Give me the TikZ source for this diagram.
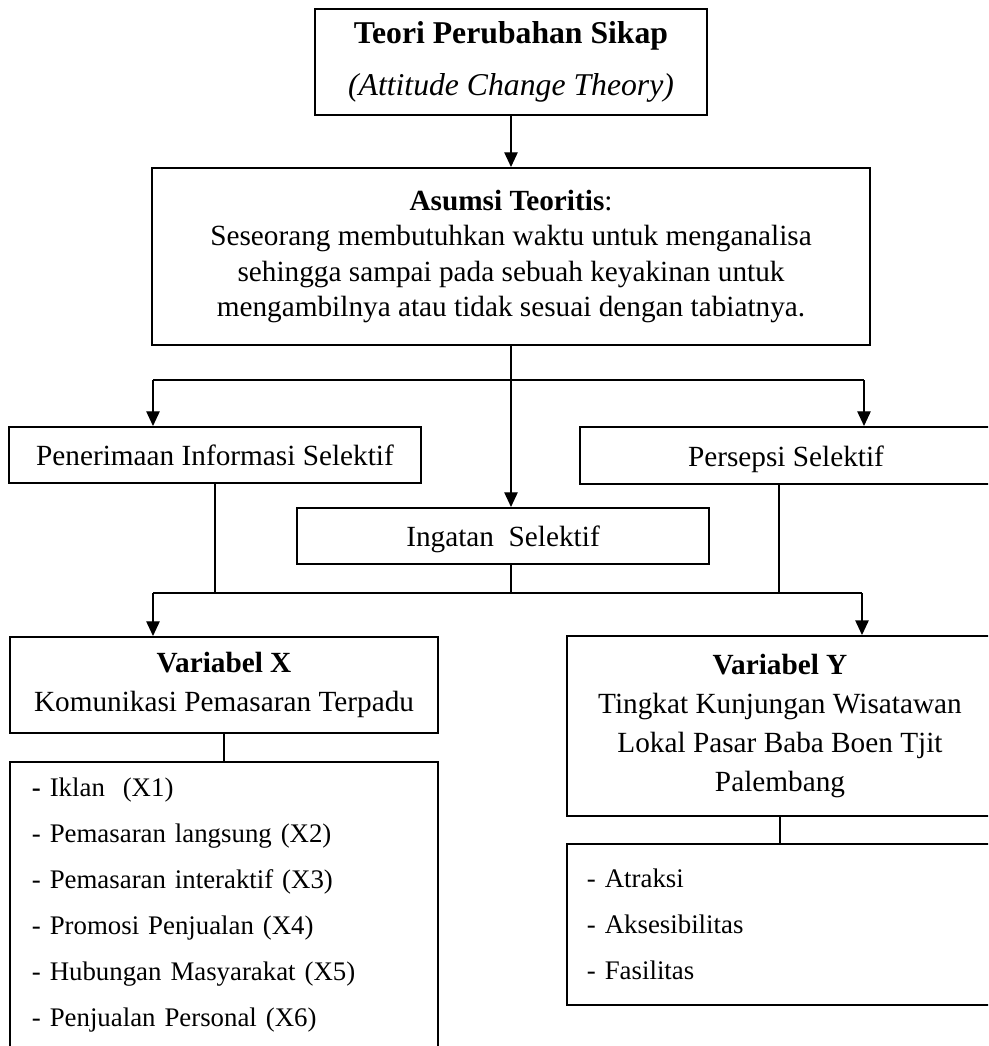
\documentclass[tikz,border=0pt]{standalone}
\usepackage{fontspec}
\setmainfont{Liberation Serif}
\usetikzlibrary{arrows.meta,positioning}
\tikzset{
    box/.style={draw, rectangle, line width=0.8pt, align=center, inner sep=0pt, font=\fontsize{12}{16}\selectfont},
    onebox/.style={box, minimum width=168.9pt, minimum height=23pt, text height=10.5pt, text depth=1.5pt},
    listbox/.style={draw, rectangle, line width=0.8pt, align=left, inner ysep=0pt, font=\fontsize{11}{18.9}\selectfont},
    edge/.style={draw, line width=0.5pt, -{Triangle[length=6pt, width=5.5pt]}},
    link/.style={draw, line width=0.5pt}
}

\begin{document}
\begin{tikzpicture}[x=0.41pt, y=-0.41pt]
    \useasboundingbox (0,0) rectangle (988,1046);
    \clip (0,0) rectangle (988,1046);

    % Nodes
    \node[box, minimum width=160.7pt, minimum height=43.5pt, font=\fontsize{13}{21.3}\selectfont] (teori) at (511,62)
        {\textbf{Teori Perubahan Sikap}\\\textit{(Attitude Change Theory)}};
    \node[box, minimum width=294pt, minimum height=72.6pt, font=\fontsize{12}{14.6}\selectfont] (asumsi) at (511,256.5)
        {\textbf{Asumsi Teoritis}:\\Seseorang membutuhkan waktu untuk menganalisa\\sehingga sampai pada sebuah keyakinan untuk\\mengambilnya atau tidak sesuai dengan tabiatnya.};
    \node[onebox] (pen) at (215,455) {Penerimaan Informasi Selektif};
    \node[onebox, minimum height=23.4pt] (pers) at (786,455.5) {Persepsi Selektif};
    \node[onebox] (ing) at (503,536) {Ingatan\ \ Selektif};
    \node[box, minimum width=175.5pt, minimum height=39.4pt] (varX) at (224,685)
        {\textbf{Variabel X}\\Komunikasi Pemasaran Terpadu};
    \node[box, minimum width=174.7pt, minimum height=73.8pt] (varY) at (780,726)
        {\textbf{Variabel Y}\\Tingkat Kunjungan Wisatawan\\Lokal Pasar Baba Boen Tjit\\Palembang};
    \node[listbox, inner xsep=9pt, text width=157.5pt, minimum height=117.3pt] (listX) at (224,905)
        {\textbf{-} Iklan\ \ (X1)\\- Pemasaran langsung (X2)\\- Pemasaran interaktif (X3)\\- Promosi Penjualan (X4)\\- Hubungan Masyarakat (X5)\\- Penjualan Personal (X6)};
    \node[listbox, inner xsep=8.2pt, text width=158.3pt, minimum height=66pt] (listY) at (780,924.5)
        {- Atraksi\\- Aksesibilitas\\- Fasilitas};

    % edges
    \draw[edge] (teori) -- (asumsi);
    \coordinate (bl) at (153,380);
    \coordinate (br) at (864,380);
    \draw[link] (bl) -- (br);
    \draw[edge] (bl) -- (bl |- pen.north);
    \draw[edge] (br) -- (br |- pers.north);
    \draw[edge] (asumsi.south) -- (asumsi.south |- ing.north);

    \coordinate (cl) at (153,593);
    \coordinate (cr) at (862,593);
    \coordinate (pline) at (779,593);
    \draw[link] (cl) -- (cr);
    \draw[link] (pen.south) -- (pen.south |- cl);
    \draw[link] (asumsi.south |- ing.south) -- (asumsi.south |- cl);
    \draw[link] (pline) -- (pline |- pers.south);
    \draw[edge] (cl) -- (cl |- varX.north);
    \draw[edge] (cr) -- (cr |- varY.north);

    \draw[link] (varX) -- (listX);
    \draw[link] (varY) -- (listY);
\end{tikzpicture}
\end{document}
